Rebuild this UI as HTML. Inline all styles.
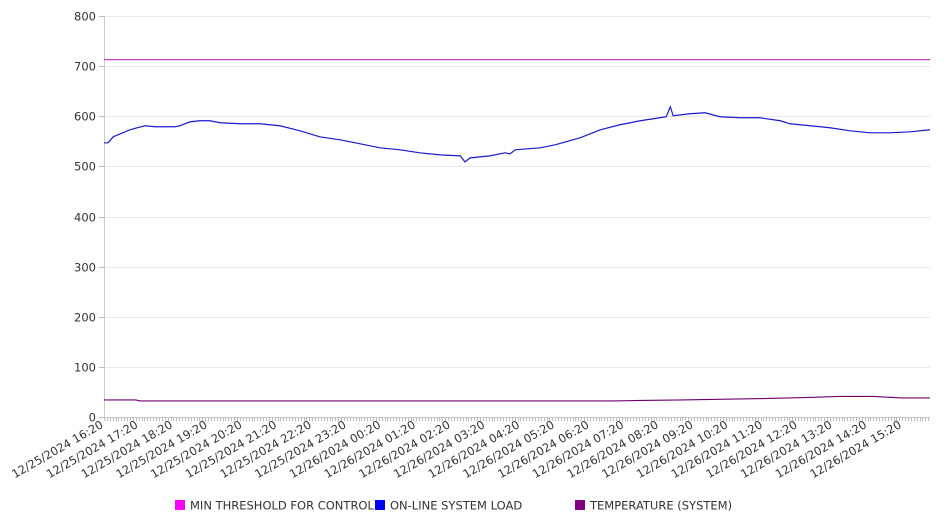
<!DOCTYPE html>
<html><head><meta charset="utf-8"><style>
body{margin:0;background:#fff;font-family:"Liberation Sans","DejaVu Sans",sans-serif;}
svg text{font-family:"DejaVu Sans","Liberation Sans",sans-serif;}
</style></head><body>
<svg id="chart" width="946" height="526" viewBox="0 0 946 526" xmlns="http://www.w3.org/2000/svg"></svg>
<script>
const yTicks=[0,100,200,300,400,500,600,700,800];
const xTickLabels=["12/25/2024 16:20","12/25/2024 17:20","12/25/2024 18:20","12/25/2024 19:20","12/25/2024 20:20","12/25/2024 21:20","12/25/2024 22:20","12/25/2024 23:20","12/26/2024 00:20","12/26/2024 01:20","12/26/2024 02:20","12/26/2024 03:20","12/26/2024 04:20","12/26/2024 05:20","12/26/2024 06:20","12/26/2024 07:20","12/26/2024 08:20","12/26/2024 09:20","12/26/2024 10:20","12/26/2024 11:20","12/26/2024 12:20","12/26/2024 13:20","12/26/2024 14:20","12/26/2024 15:20"];
const loadMinutes=[0,7,16,28,45,57,71,88,105,123,131,149,166,183,201,235,270,304,339,373,408,443,477,512,546,581,616,624,633,667,693,702,711,754,780,823,858,892,927,961,972,979,984,1013,1039,1065,1100,1134,1169,1186,1221,1255,1290,1325,1359,1394,1428];
const loadValues=[547,547,559,565,573,577,581,579,579,579,581,589,591,591,587,585,585,581,571,559,553,545,537,533,527,523,521,509,517,521,527,525,533,537,543,557,573,583,591,597,599,619,601,605,607,599,597,597,591,585,581,577,571,567,567,569,573];
const tempMinutes=[0,55,62,300,600,880,930,1000,1100,1150,1220,1270,1330,1380,1428];
const tempValues=[34,34,32,32,32,32,33,34,36,37,39,41,41,38,38];
const thresholdValue=713;
const totalMinutes=1428;

const svg=document.getElementById('chart');
const NS='http://www.w3.org/2000/svg';
const X0=104,X1=930,Y0=417,Y1=16;
const xs=m=>X0+m/totalMinutes*(X1-X0);
const ys=v=>Y0-v/800*(Y0-Y1);
function el(tag,attrs,parent){const e=document.createElementNS(NS,tag);for(const k in attrs)e.setAttribute(k,attrs[k]);(parent||svg).appendChild(e);return e;}

const grid=el('g',{});


yTicks.forEach(v=>{
  const y=Math.round(ys(v))+0.5;
  if(v>0){const l=el('line',{x1:X0,x2:X1,y1:y,y2:y,stroke:'#e8e8e8','stroke-width':1},grid);
  
  }
  const t=el('line',{x1:X0-5,x2:X0,y1:y,y2:y,stroke:'#bbb'},grid);
  
  
  const tx=el('text',{x:X0-8,y:y+4,'text-anchor':'end','font-size':11.5,fill:'#333'},grid);
  tx.textContent=v;
  
  
});
const ya=el('line',{x1:X0+0.5,x2:X0+0.5,y1:Y1,y2:Y0,stroke:'#ccc'});


const xa=el('line',{x1:X0,x2:X1,y1:Y0+0.5,y2:Y0+0.5,stroke:'#ccc'});


const minor=el('g',{});


for(let m=0;m<=totalMinutes;m+=5){const x=Math.round(xs(m))+0.5;el('line',{x1:x,x2:x,y1:Y0,y2:Y0+4,stroke:'#bbb'},minor);}
xTickLabels.forEach((lab,i)=>{
  const x=xs(i*60);
  const t=el('text',{x:x,y:Y0+10,'text-anchor':'end','font-size':11.5,fill:'#333',transform:`rotate(-30 ${x} ${Y0+10})`});
  t.textContent=lab;
  
  
});
const th=el('line',{x1:X0,x2:X1,y1:ys(thresholdValue),y2:ys(thresholdValue),stroke:'#c040c0','stroke-width':1.2});


const lp=el('polyline',{points:loadMinutes.map((m,i)=>xs(m)+','+ys(loadValues[i])).join(' '),fill:'none',stroke:'#1a1acc','stroke-width':1.2});


const tp=el('polyline',{points:tempMinutes.map((m,i)=>xs(m)+','+ys(tempValues[i])).join(' '),fill:'none',stroke:'#700070','stroke-width':1.2});



const legend=[["MIN THRESHOLD FOR CONTROL","#ff00ff",175],["ON-LINE SYSTEM LOAD","#0000ff",375],["TEMPERATURE (SYSTEM)","#800080",575]];
legend.forEach(([lab,c,x])=>{
  const g=el('g',{});
  
  
  el('rect',{x:x,y:500,width:10,height:10,fill:c},g);
  const t=el('text',{x:x+15,y:509.5,'font-size':11.5,fill:'#333'},g);
  t.textContent=lab;
});
</script>
</body></html>
